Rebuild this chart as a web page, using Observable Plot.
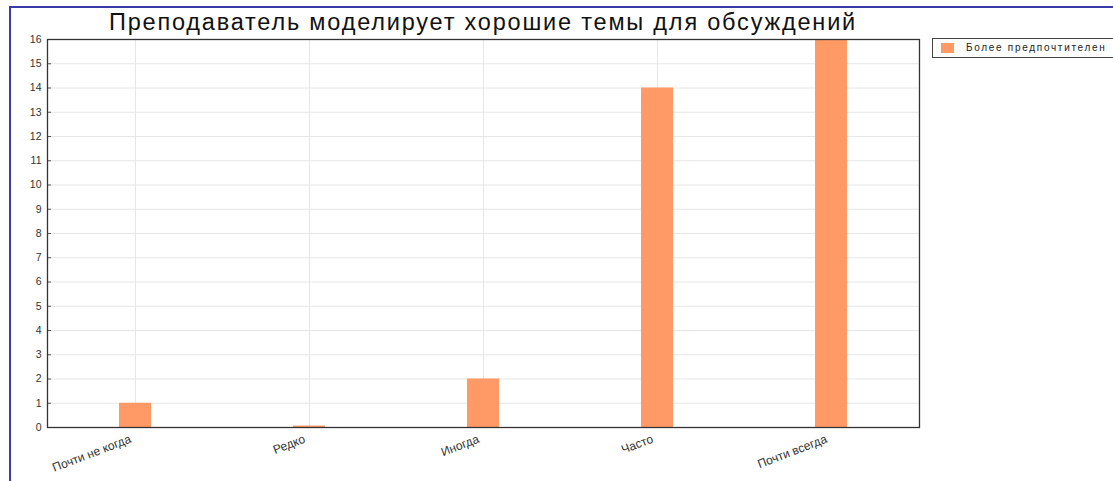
<!DOCTYPE html>
<html>
<head>
<meta charset="utf-8">
<script src="https://cdn.jsdelivr.net/npm/d3@7"></script>
<script src="https://cdn.jsdelivr.net/npm/@observablehq/plot@0.6"></script>
<style>
  html, body { margin: 0; padding: 0; background: #fff; }
  #wrap { position: relative; width: 1113px; height: 481px; overflow: hidden; background: #fff; font-family: "Liberation Sans", Arial, sans-serif; }
  #border { position: absolute; left: 9px; top: 6px; right: -5px; bottom: -5px; border-left: 2px solid #3a3aa8; border-top: 2px solid #3a3aa8; }
  #title { position: absolute; left: 47px; width: 872px; top: 9px; text-align: center; font-size: 23.5px; color: #111; letter-spacing: 1.8px; white-space: nowrap; }
  #legend { position: absolute; left: 932px; top: 38px; width: 200px; height: 20px; border: 1px solid #444; box-sizing: border-box; background: #fff; }
  #legend .sw { position: absolute; left: 8px; top: 4px; width: 13px; height: 10px; background: #FF9A66; }
  #legend .lb { position: absolute; left: 33px; top: 3px; font-size: 10px; color: #222; letter-spacing: 1.7px; white-space: nowrap; }
  #chart { position: absolute; left: 0; top: 0; }
</style>
</head>
<body>
<div id="wrap">
  <div id="chart"></div>
  <div id="border"></div>
  <div id="title">Преподаватель моделирует хорошие темы для обсуждений</div>
  <div id="legend"><div class="sw"></div><div class="lb">Более предпочтителен</div></div>
</div>
<script>
const categories = ["Почти не когда", "Редко", "Иногда", "Часто", "Почти всегда"];
const values = [1, 0.06, 2, 14, 16];
const yTicks = [0, 1, 2, 3, 4, 5, 6, 7, 8, 9, 10, 11, 12, 13, 14, 15, 16];
const seriesName = "Более предпочтителен";
const barColor = "#FF9A66";

const data = categories.map((c, i) => ({category: c, value: values[i], series: seriesName}));

const chart = Plot.plot({
  width: 1113,
  height: 481,
  marginLeft: 47,
  marginRight: 194,
  marginTop: 39,
  marginBottom: 54,
  style: {background: "transparent", fontFamily: "Liberation Sans, Arial, sans-serif"},
  x: {type: "band", domain: categories, paddingInner: 0.817, paddingOuter: 0.4085, label: null},
  y: {domain: [0, 16], label: null},
  marks: [
    Plot.gridY(yTicks, {stroke: "#e6e6e6", strokeOpacity: 1}),
    Plot.gridX(categories, {stroke: "#e6e6e6", strokeOpacity: 1}),
    Plot.barY(data, {x: "category", y: "value", fill: barColor}),
    Plot.axisY(yTicks, {tickSize: 0, tickPadding: 6, fontSize: 10.5, fill: "#333", label: null}),
    Plot.axisY(yTicks, {tickSize: 4, dx: 4, text: null, stroke: "#555", label: null}),
    Plot.axisX(categories, {tickSize: 0, tickRotate: -21, textAnchor: "end", tickPadding: 11, dx: -5, fontSize: 12, fill: "#333", label: null, style: {letterSpacing: "1.7px"}}),
    Plot.frame({stroke: "#333", strokeWidth: 1.3})
  ]
});
document.getElementById("chart").appendChild(chart);
</script>
</body>
</html>
